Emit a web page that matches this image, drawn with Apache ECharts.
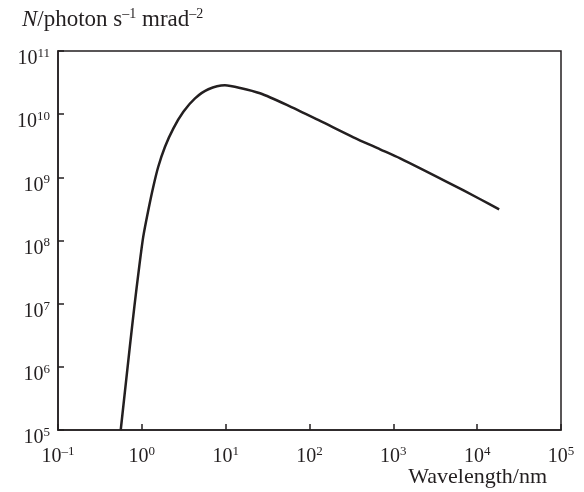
<!DOCTYPE html>
<html><head><meta charset="utf-8">
<script src="https://cdn.jsdelivr.net/npm/echarts@6/dist/echarts.min.js"></script>
<style>html,body{margin:0;padding:0;background:#fff}#c{width:584px;height:492px}</style>
</head><body><div id="c"></div>
<script>
const wavelength = [0.56,0.72,0.814,0.92,1.04,1.196,1.37,1.57,1.89,2.38,3.13,4.31,6.22,9.8,14.9,25.7,53.6,134,334,695,1205,4340,10900,18300];
const flux = [1e5,2.1e6,8.9e6,3.4e7,1.15e8,3.04e8,7.1e8,1.47e9,3.05e9,5.97e9,1.09e10,1.78e10,2.48e10,2.86e10,2.6e10,2.14e10,1.4e10,7.8e9,4.3e9,2.78e9,2.0e9,8.5e8,4.5e8,3.1e8];
const xTitle = 'Wavelength/nm';

const ink = '#231f20';
const font = 'Liberation Serif';
function powLabel(v){
  const e = Math.round(Math.log10(v));
  const s = e < 0 ? '–' + (-e) : String(e);
  return '{b|10}{s|' + s + '}';
}
const rich = {
  b:{fontFamily:font,fontSize:20,color:ink,lineHeight:22,verticalAlign:'bottom'},
  s:{fontFamily:font,fontSize:13,color:ink,lineHeight:22,verticalAlign:'top',padding:[0,0,8,0]}
};
const chart = echarts.init(document.getElementById('c'),null,{renderer:'canvas'});
chart.setOption({
  animation:false,
  backgroundColor:'#fff',
  title:[
    {text:'{i|N}{n|/photon s}{s|–1}{n| mrad}{s|–2}',left:17,top:2,
     textStyle:{fontWeight:'normal',rich:{
       i:{fontFamily:font,fontStyle:'italic',fontWeight:'normal',fontSize:23,color:ink,verticalAlign:'bottom',lineHeight:24},
       n:{fontFamily:font,fontWeight:'normal',fontSize:23,color:ink,verticalAlign:'bottom',lineHeight:24},
       s:{fontFamily:font,fontWeight:'normal',fontSize:14,color:ink,verticalAlign:'top',lineHeight:24,padding:[0,0,10,0]}
     }}},
    {text:xTitle,right:32,top:461,textStyle:{fontFamily:font,fontSize:22,fontWeight:'normal',color:ink}}
  ],
  grid:{left:58,top:51,right:23,bottom:62,show:true,borderColor:ink,borderWidth:1.5,backgroundColor:'transparent'},
  xAxis:{type:'log',logBase:10,min:0.1,max:1e5,
    axisLine:{lineStyle:{color:ink,width:1.5}},
    axisTick:{inside:true,length:6,lineStyle:{color:ink,width:1.5}},
    axisLabel:{formatter:powLabel,rich:rich,margin:15,showMinLabel:true,showMaxLabel:true},
    splitLine:{show:false},minorTick:{show:false}},
  yAxis:{type:'log',logBase:10,min:1e5,max:1e11,
    axisLine:{lineStyle:{color:ink,width:1.5}},
    axisTick:{inside:true,length:6,lineStyle:{color:ink,width:1.5}},
    axisLabel:{formatter:powLabel,rich:rich,margin:8,padding:[14,0,0,0],showMinLabel:true,showMaxLabel:true},
    splitLine:{show:false}},
  series:[{type:'line',data:wavelength.map((w,i)=>[w,flux[i]]),smooth:0.25,symbol:'none',
    lineStyle:{color:ink,width:2.5},clip:true}]
});
</script></body></html>
